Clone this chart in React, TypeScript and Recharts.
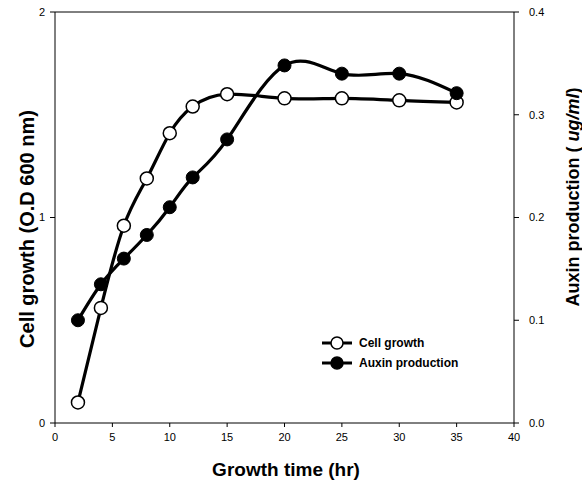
import { LineChart, Line, XAxis, YAxis, ReferenceLine, Label } from 'recharts'

const time = [2, 4, 6, 8, 10, 12, 15, 20, 25, 30, 35]
const cellGrowth = [0.1, 0.56, 0.96, 1.19, 1.41, 1.54, 1.6, 1.58, 1.58, 1.57, 1.56]
const auxin = [0.1, 0.135, 0.16, 0.183, 0.21, 0.239, 0.276, 0.348, 0.34, 0.34, 0.321]

const xTicks = [0, 5, 10, 15, 20, 25, 30, 35, 40]
const leftTicks = [0, 1, 2]
const rightTicks = [0, 0.1, 0.2, 0.3, 0.4]

const seriesNames = ['Cell growth', 'Auxin production']

const data = time.map((t, i) => ({ time: t, cell: cellGrowth[i], auxin: auxin[i] }))

const FONT = '"Liberation Sans", Arial, Helvetica, sans-serif'
const tickStyle = { fill: '#000', fontSize: 11, fontFamily: FONT }

// axis titles are placed by hand, the label viewBox was not reliable
function LeftTitle() {
  const cx = 27
  const cy = 229
  return (
    <text
      x={cx}
      y={cy}
      transform={`rotate(-90 ${cx} ${cy})`}
      textAnchor="middle"
      dominantBaseline="central"
      fontFamily={FONT}
      fontWeight="bold"
      fontSize={20}
      fill="#000"
    >
      Cell growth (O.D 600 nm)
    </text>
  )
}

function RightTitle() {
  const cx = 573
  const cy = 197
  return (
    <text
      x={cx}
      y={cy}
      transform={`rotate(-90 ${cx} ${cy})`}
      textAnchor="middle"
      dominantBaseline="central"
      fontFamily={FONT}
      fontWeight="bold"
      fontSize={18}
      fill="#000"
    >
      Auxin production ( <tspan fontStyle="italic">ug/ml</tspan>)
    </text>
  )
}

function BottomTitle() {
  return (
    <text
      x={286}
      y={469}
      textAnchor="middle"
      dominantBaseline="central"
      fontFamily={FONT}
      fontWeight="bold"
      fontSize={19}
      fill="#000"
    >
      Growth time (hr)
    </text>
  )
}

function LegendBox() {
  return (
    <div
      style={{
        position: 'absolute',
        left: 320,
        top: 333,
        fontFamily: FONT,
        fontWeight: 'bold',
        fontSize: 12,
        color: '#000',
        lineHeight: '20px',
      }}
    >
      {seriesNames.map((name, i) => (
        <div key={name} style={{ display: 'flex', alignItems: 'center' }}>
          <svg width={34} height={20} style={{ marginRight: 5 }}>
            <line x1={2} y1={10} x2={32} y2={10} stroke="#000" strokeWidth={3} />
            <circle cx={17} cy={10} r={6} fill={i === 0 ? '#fff' : '#000'} stroke="#000" strokeWidth={1.5} />
          </svg>
          <span>{name}</span>
        </div>
      ))}
    </div>
  )
}

export default function App() {
  return (
    <div style={{ position: 'absolute', left: 0, top: 0, width: 582, height: 486, background: '#fff' }}>
      <LineChart width={582} height={486} data={data} margin={{ top: 12, right: 0, left: 0, bottom: 0 }}>
        <XAxis
          dataKey="time"
          type="number"
          domain={[0, 40]}
          ticks={xTicks}
          height={63}
          tick={tickStyle}
          tickSize={4}
          tickMargin={6}
          axisLine={{ stroke: '#000' }}
          tickLine={{ stroke: '#000' }}
        >
          <Label content={<BottomTitle />} />
        </XAxis>
        <YAxis
          yAxisId="left"
          domain={[0, 2]}
          ticks={leftTicks}
          width={55}
          tick={tickStyle}
          tickSize={5}
          tickMargin={5}
          axisLine={{ stroke: '#000' }}
          tickLine={{ stroke: '#000' }}
        >
          <Label content={<LeftTitle />} />
        </YAxis>
        <YAxis
          yAxisId="right"
          orientation="right"
          domain={[0, 0.4]}
          ticks={rightTicks}
          tickFormatter={(v: number) => v.toFixed(1)}
          width={68}
          tick={tickStyle}
          tickSize={5}
          tickMargin={10}
          axisLine={{ stroke: '#000' }}
          tickLine={{ stroke: '#000' }}
        >
          <Label content={<RightTitle />} />
        </YAxis>
        <ReferenceLine yAxisId="left" y={2} stroke="#000" strokeWidth={1} />
        <Line
          yAxisId="left"
          type="natural"
          dataKey="cell"
          name={seriesNames[0]}
          stroke="#000"
          strokeWidth={3.2}
          dot={{ r: 6.5, fill: '#fff', stroke: '#000', strokeWidth: 1.5 }}
          isAnimationActive={false}
        />
        <Line
          yAxisId="right"
          type="natural"
          dataKey="auxin"
          name={seriesNames[1]}
          stroke="#000"
          strokeWidth={3.2}
          dot={{ r: 6.5, fill: '#000', stroke: '#000', strokeWidth: 1 }}
          isAnimationActive={false}
        />
      </LineChart>
      <LegendBox />
    </div>
  )
}
